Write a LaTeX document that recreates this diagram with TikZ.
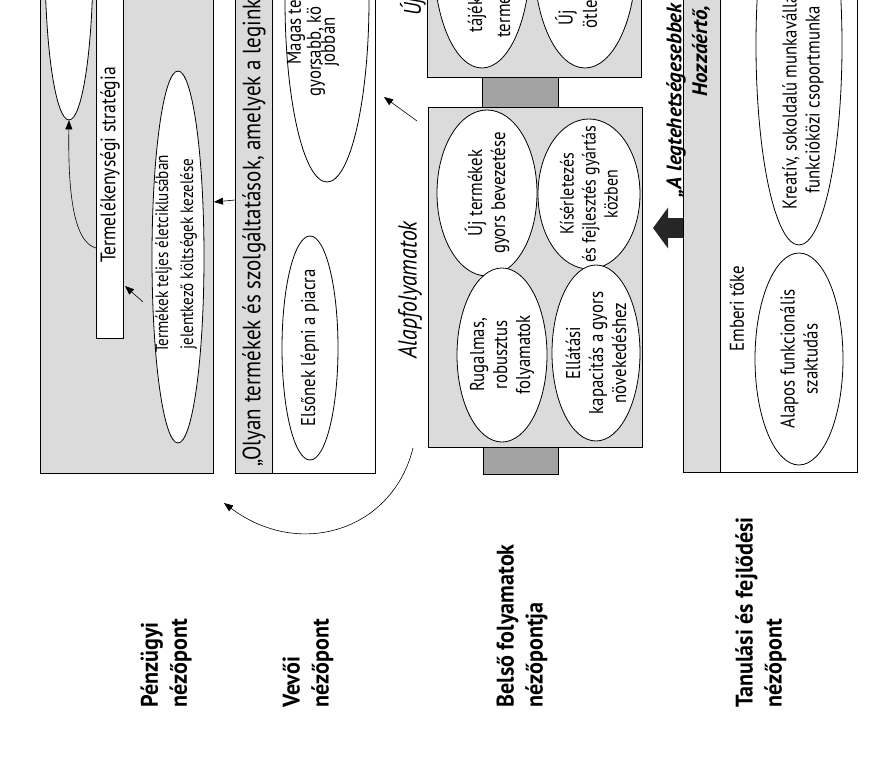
\documentclass[tikz,border=0pt]{standalone}
\usepackage{fontspec}
\setmainfont{PT Sans}[FakeStretch=0.84]
\newfontfamily\perspfont{PT Sans}[FakeStretch=0.92]
\newfontfamily\headfont{PT Sans}
\usetikzlibrary{arrows.meta,shapes.geometric,positioning}

\begin{document}
\begin{tikzpicture}[x=1pt,y=-1pt,line width=0.8pt,
  box/.style={draw,fill=black!14,inner sep=0pt},
  plain/.style={draw,fill=white,inner sep=0pt},
  link/.style={draw,fill=black!36,inner sep=0pt},
  oval/.style={ellipse,draw,fill=white,inner sep=0pt},
  txt/.style={rotate=90,align=center,inner sep=0pt,font=\fontsize{20}{23}\selectfont},
  head/.style={rotate=90,anchor=west,inner sep=0pt,font=\headfont\bfseries\itshape\fontsize{21}{23}\selectfont},
  arr/.style={-{Triangle[length=9pt,width=7pt]},line width=0.6pt},
  persp/.style={rotate=90,anchor=west,align=left,inner sep=0pt,font=\perspfont\bfseries\fontsize{24}{29}\selectfont}]
  \useasboundingbox (0,0) rectangle (876,762);
  \clip (0,0) rectangle (876,762);

  \node[box,minimum width=173pt,minimum height=493pt] (pnz) at (126.5,226.5) {};
  \node[plain,minimum width=27pt,minimum height=358pt] (strat) at (109.5,159) {};
  \node[oval,minimum width=48pt,minimum height=320pt] (elA) at (69,-40) {};
  \node[oval,minimum width=52pt,minimum height=372pt] (elB) at (178,257) {};
  \node[txt,font=\fontsize{21}{25}\selectfont] at (110,165) {Termelékenységi stratégia};
  \node[txt,font=\fontsize{18}{25}\selectfont] at (176,254) {Termékek teljes életciklusában\\jelentkező költségek kezelése};

  \node[plain,minimum width=140pt,minimum height=493pt] (vev) at (305,226.5) {};
  \node[box,minimum width=37pt,minimum height=493pt] (vevstrip) at (253.5,226.5) {};
  \node[txt,anchor=west,font=\fontsize{25}{27}\selectfont] at (254,467) {„Olyan termékek és szolgáltatások, amelyek a legink};
  \node[oval,minimum width=56pt,minimum height=224pt] (elC) at (310,348) {};
  \node[txt] at (elC) {Elsőnek lépni a piacra};
  \node[oval,minimum width=84pt,minimum height=364pt] (elD) at (327,0) {};
  \node[txt,anchor=west] at (296,65) {Magas te};
  \node[txt,anchor=west] at (316,97) {gyorsabb, kö};
  \node[txt,anchor=west] at (330,67) {jobban};

  \node[link,minimum width=76pt,minimum height=30pt] (link1) at (520,92) {};
  \node[link,minimum width=75pt,minimum height=27pt] (link2) at (520.5,460.5) {};
  \node[box,minimum width=214pt,minimum height=97pt] (ujbox) at (534,28.5) {};
  \node[box,minimum width=214pt,minimum height=340pt] (bel) at (535,277) {};
  \node[oval,minimum width=96pt,minimum height=216pt] (elE) at (482,-40) {};
  \node[oval,minimum width=102pt,minimum height=216pt] (elF) at (585,-40) {};
  \node[txt,anchor=west] at (477,33) {tájék};
  \node[txt,anchor=west] at (503,38) {termé};
  \node[txt,anchor=west] at (566,26) {Új};
  \node[txt,anchor=west] at (590,29) {ötle};
  \node[oval,minimum width=100pt,minimum height=166pt] (elG) at (487,193) {};
  \node[oval,minimum width=102pt,minimum height=150pt] (elH) at (589,194) {};
  \node[oval,minimum width=90pt,minimum height=174pt] (elI) at (502,355) {};
  \node[oval,minimum width=88pt,minimum height=176pt] (elJ) at (596,353) {};
  \node[txt] at (elG) {Új termékek\\gyors bevezetése};
  \node[txt,font=\fontsize{19}{22}\selectfont] at (elH) {Kísérletezés\\és fejlesztés gyártás\\közben};
  \node[txt] at (elI) {Rugalmas,\\robusztus\\folyamatok};
  \node[txt] at (elJ) {Ellátási\\kapacitás a gyors\\növekedéshez};
  \node[txt,font=\itshape\fontsize{26}{28}\selectfont] (alap) at (410,290) {Alapfolyamatok};
  \node[txt,anchor=west,font=\itshape\fontsize{24}{26}\selectfont] (ujlab) at (413,16) {Új};

  \node[plain,minimum width=174pt,minimum height=492pt] (tan) at (770,226) {};
  \node[box,minimum width=37pt,minimum height=492pt] (tanstrip) at (701.5,226) {};
  \node[head] (head1) at (676,198) {„A legtehetségesebbek};
  \node[head] (head2) at (701,97) {Hozzáértő,};
  \node[txt,anchor=west] (ember) at (737,352) {Emberi tőke};
  \node[oval,minimum width=88pt,minimum height=212pt] (elK) at (799,359) {};
  \node[txt] at (elK) {Alapos funkcionális\\szaktudás};
  \node[oval,minimum width=86pt,minimum height=400pt] (elL) at (799,45) {};
  \node[txt] at (803,100) {Kreatív, sokoldalú munkavállal\\funkcióközi csoportmunka};

  \coordinate (s1) at (96,248);
  \coordinate (b1) at (143,302);
  \coordinate (b2) at (125,286);
  \coordinate (v1) at (235,200);
  \coordinate (v2) at (214,202);
  \coordinate (m1) at (417,121);
  \coordinate (m2) at (384,97);
  \coordinate (m3) at (413,448);
  \coordinate (m4) at (224,503);
  \coordinate (t1) at (683,228);
  \coordinate (t2) at (653,228);
  \draw[arr] (s1) .. controls (72,242) and (68,185) .. (elA.south);
  \draw[arr] (b1) -- (b2);
  \draw[arr] (v1) -- (v2);
  \draw[arr] (m1) -- (m2);
  \draw[arr] (m3) .. controls (393,530) and (300,560) .. (m4);
  \draw[line width=20pt,black!85,-{Triangle[length=15pt,width=40pt]}] (t1) -- (t2);

  \node[persp] (lpnz) at (166,708) {Pénzügyi\\nézőpont};
  \node[persp] (lvev) at (308,708) {Vevői\\nézőpont};
  \node[persp] (lbel) at (522,708) {Belső folyamatok\\nézőpontja};
  \node[persp] (ltan) at (761,708) {Tanulási és fejlődési\\nézőpont};
\end{tikzpicture}
\end{document}
